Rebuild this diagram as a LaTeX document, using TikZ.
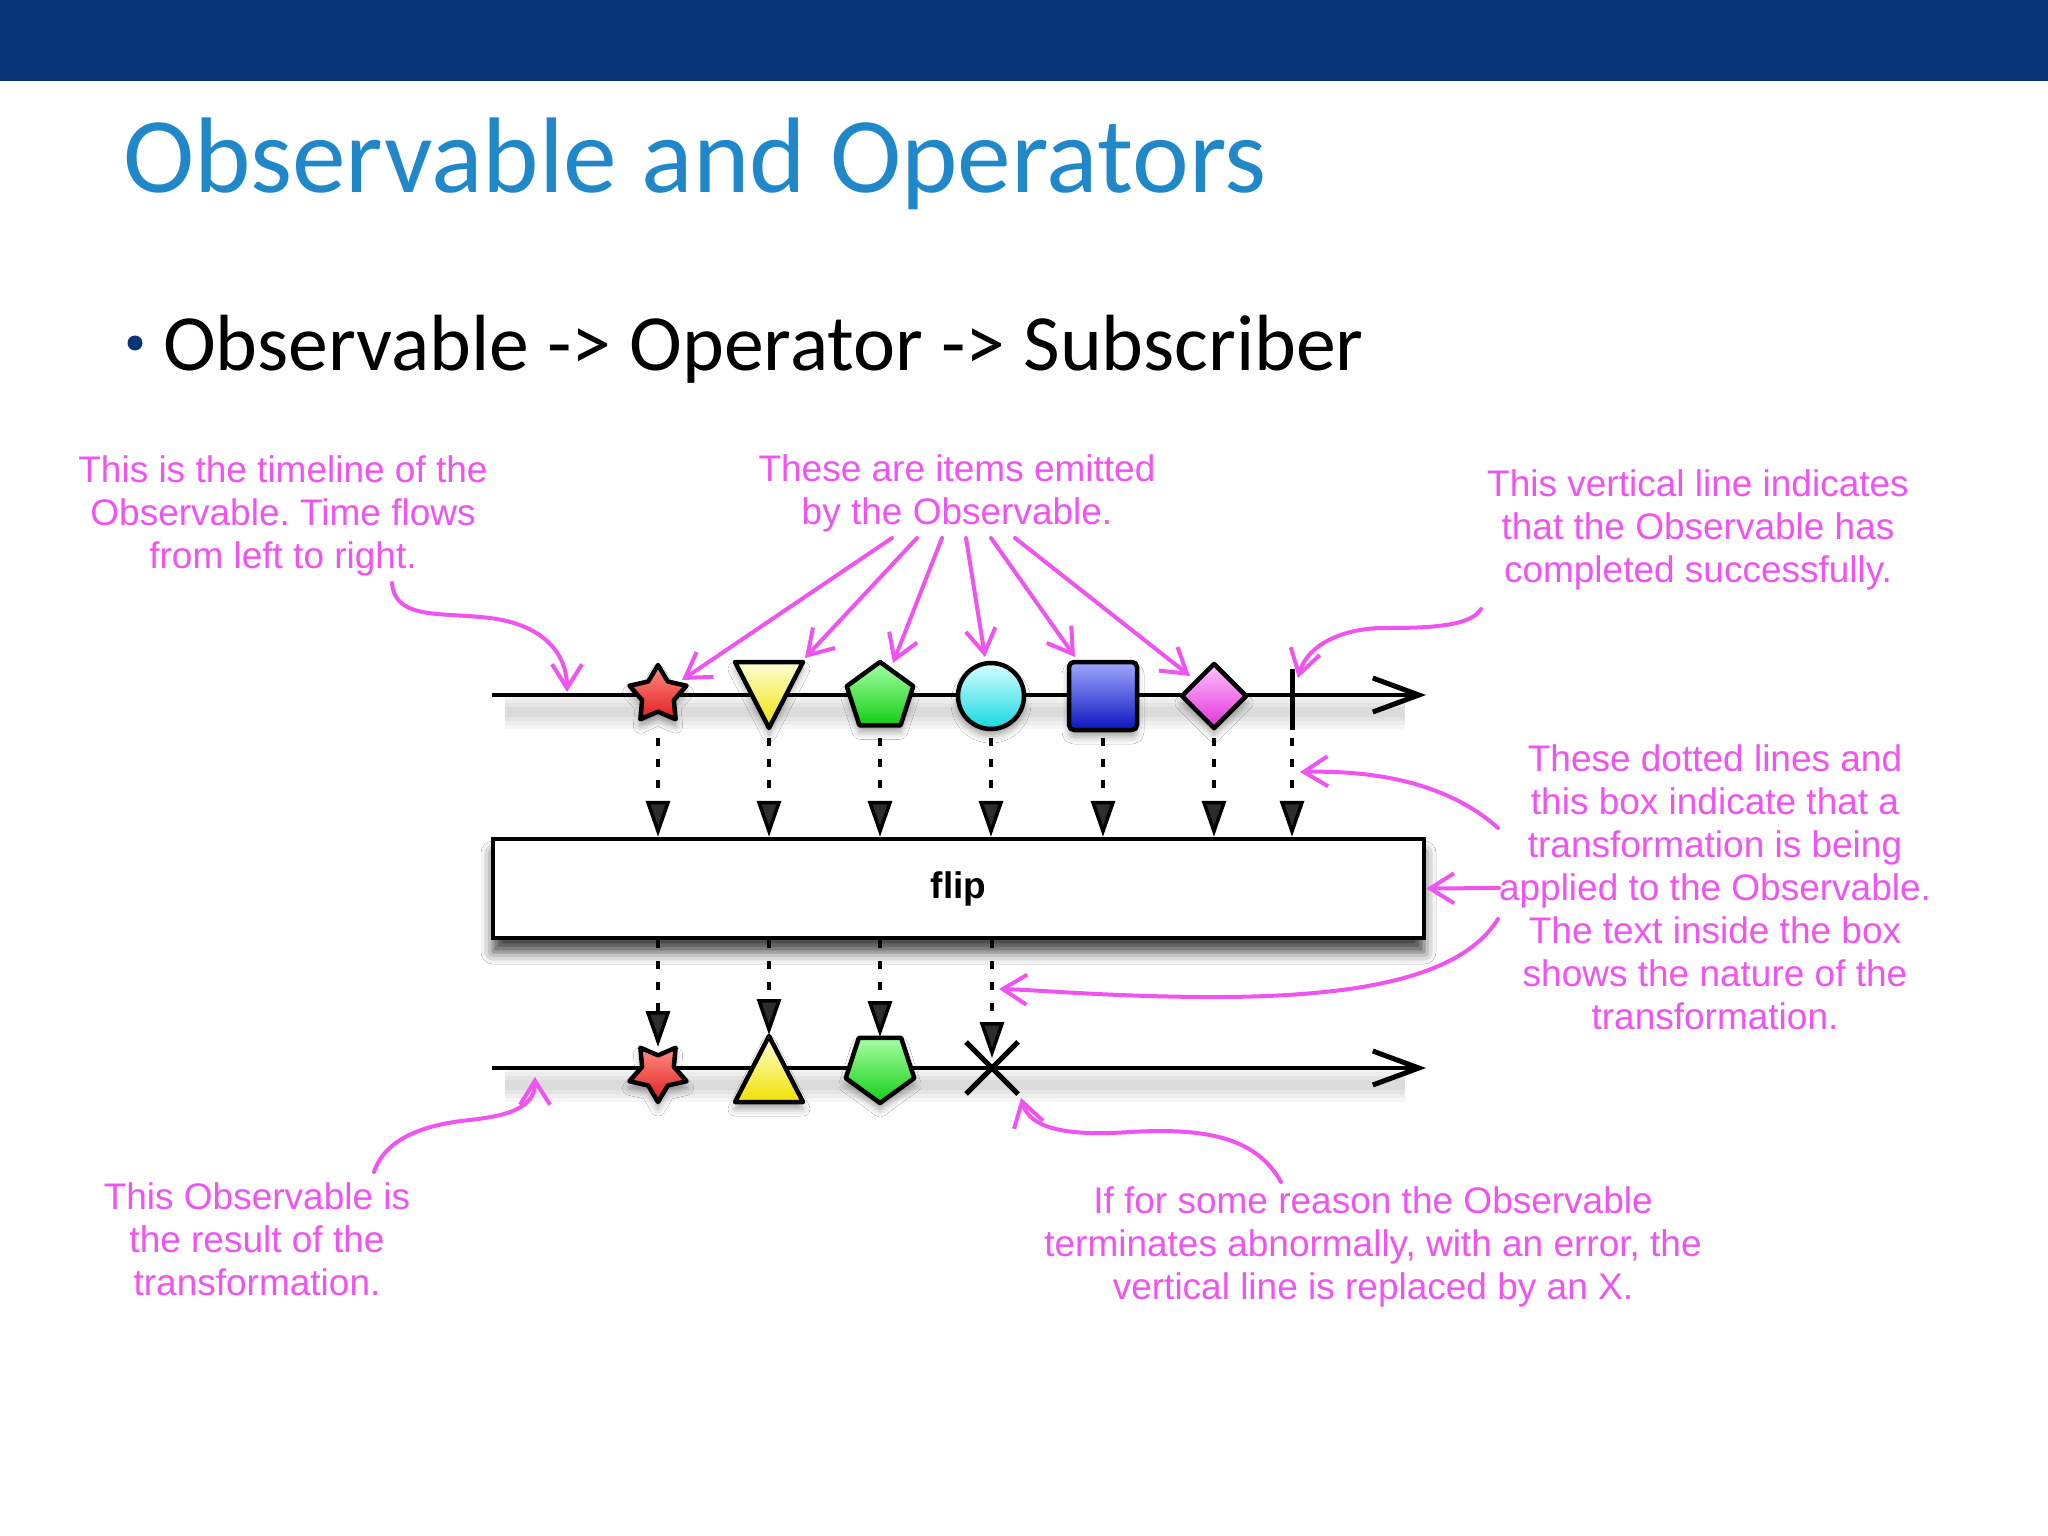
\documentclass[tikz,border=0pt]{standalone}
\usepackage{fontspec}
\setmainfont{Liberation Sans}
\newfontfamily\calibrifont{Carlito}
\usetikzlibrary{arrows.meta,shapes.geometric,shadows.blur}
\definecolor{navyband}{RGB}{10,54,120}
\definecolor{titleblue}{RGB}{32,136,200}
\definecolor{annot}{RGB}{240,84,240}
\definecolor{starT}{RGB}{255,140,130}\definecolor{starB}{RGB}{225,30,30}
\definecolor{yelT}{RGB}{255,255,215}\definecolor{yelB}{RGB}{240,225,0}
\definecolor{grnT}{RGB}{165,255,165}\definecolor{grnB}{RGB}{20,205,20}
\definecolor{cyaT}{RGB}{215,255,255}\definecolor{cyaB}{RGB}{20,215,225}
\definecolor{bluT}{RGB}{160,170,255}\definecolor{bluB}{RGB}{10,20,190}
\definecolor{pnkT}{RGB}{255,195,255}\definecolor{pnkB}{RGB}{225,50,215}
\frenchspacing
\begin{document}
\begin{tikzpicture}[x=1pt,y=-1pt,
  itembox/.style={draw=black, line width=4.5pt, inner sep=0pt, line join=round,
    blur shadow={shadow xshift=0pt,shadow yshift=-7pt,shadow blur radius=7pt,shadow opacity=35}},
  dasharrow/.style={line width=3.5pt, dash pattern=on 8pt off 13pt, -{Triangle[length=36pt,width=24pt]}},
  timeline/.style={line width=4pt, -{Straight Barb[length=46pt,width=34pt,line width=5pt]}},
  tlshadow/.style={black, line width=#1, opacity=0.035},
  annotext/.style={text=annot, font=\fontsize{37}{43}\selectfont, align=center, anchor=north, inner sep=0pt},
  annoarrow/.style={draw=annot, line width=4pt, line cap=round, -{Straight Barb[length=24pt,width=30pt,line width=4pt]}}
]
\fill[white] (0,0) rectangle (2048,1536);
\useasboundingbox (0,0) rectangle (2048,1536);
\fill[navyband] (0,0) rectangle (2048,81);

% title and bullet
\node[anchor=base west, inner sep=0pt, text=titleblue, font=\calibrifont\fontsize{107.5}{120}\selectfont] (title) at (123,193) {Observable and Operators};
\node[circle, fill=navyband, minimum size=15pt, inner sep=0pt] (bullet) at (135,343) {};
\node[anchor=base west, inner sep=0pt, font=\calibrifont\fontsize{79.7}{90}\selectfont] (point) at (163,370) {Observable -> Operator -> Subscriber};

% timelines
\coordinate (tl1s) at (492,695); \coordinate (tl1e) at (1426,695);
\coordinate (tl2s) at (492,1068); \coordinate (tl2e) at (1426,1068);
\foreach \w in {34,26,18,10} {
  \draw[tlshadow=\w pt] (505,712) -- (1405,712);
  \draw[tlshadow=\w pt] (505,1085) -- (1405,1085);
}
\draw[timeline] (tl1s) -- (tl1e);
\draw[timeline] (tl2s) -- (tl2e);

% operator box
\node[draw=black, line width=4.5pt, fill=white, minimum width=931pt, minimum height=99pt, inner sep=0pt,
  blur shadow={shadow xshift=0pt,shadow yshift=-14pt,shadow blur radius=12pt,shadow opacity=75},
  font=\bfseries\fontsize{37}{43}\selectfont] (box) at (958.5,888.5) {flip};

% top items
\node[itembox, star, star points=5, star point ratio=1.8, minimum size=60pt, top color=starT, bottom color=starB] (s1) at (658,695) {};
\coordinate (t1) at (769,695);
\path[itembox, top color=yelT, bottom color=yelB] (735,662) -- (803,662) -- (769,728) -- cycle;
\node[itembox, regular polygon, regular polygon sides=5, minimum size=70pt, top color=grnT, bottom color=grnB] (p1) at (880,697) {};
\node[itembox, circle, minimum size=66pt, top color=cyaT, bottom color=cyaB] (c1) at (991,696) {};
\node[itembox, rectangle, rounded corners=5pt, minimum size=68pt, top color=bluT, bottom color=bluB] (q1) at (1103,696) {};
\node[itembox, diamond, minimum width=66pt, minimum height=66pt, top color=pnkT, bottom color=pnkB] (d1) at (1214,696) {};
\coordinate (bar) at (1292,699);
\draw[line width=5pt] (1292,669) -- (1292,730);

% bottom items
\node[itembox, star, star points=5, star point ratio=1.8, minimum size=60pt, shape border rotate=180, top color=starT, bottom color=starB] (s2) at (658,1072) {};
\coordinate (t2) at (769,1068);
\path[itembox, top color=yelT, bottom color=yelB] (769,1036) -- (803,1102) -- (735,1102) -- cycle;
\node[itembox, regular polygon, regular polygon sides=5, shape border rotate=180, minimum size=72pt, top color=grnT, bottom color=grnB] (p2) at (880,1067) {};
\coordinate (x2) at (992,1068);
\draw[line width=5pt] (966,1042) -- (1018,1094) (1018,1042) -- (966,1094);

% dashed arrows into the box
\foreach \n in {s1,t1,p1,c1,q1,d1,bar} {
  \draw[dasharrow] (\n |- 0,738) -- (\n |- box.north);
}
% dashed arrows out of the box
\draw[dasharrow] (s2 |- box.south) -- (s2 |- 0,1047);
\draw[dasharrow] (t2 |- box.south) -- (t2 |- 0,1035);
\draw[dasharrow] (p2 |- box.south) -- (p2 |- 0,1037);
\draw[dasharrow] (x2 |- box.south) -- (x2 |- 0,1058);

% annotations
\node[annotext] (ann1) at (283,455) {This is the timeline of the\\Observable. Time flows\\from left to right.};
\node[annotext] (ann2) at (957,454) {These are items emitted\\by the Observable.};
\node[annotext] (ann3) at (1698,469) {This vertical line indicates\\that the Observable has\\completed successfully.};
\node[annotext] (ann4) at (1715,744) {These dotted lines and\\this box indicate that a\\transformation is being\\applied to the Observable.\\The text inside the box\\shows the nature of the\\transformation.};
\node[annotext] (ann5) at (257,1182) {This Observable is\\the result of the\\transformation.};
\node[annotext] (ann6) at (1373,1186) {If for some reason the Observable\\terminates abnormally, with an error, the\\vertical line is replaced by an X.};

% annotation arrows
\coordinate (a1s) at (392,583); \coordinate (a1e) at (567,692);
\draw[annoarrow] (a1s) .. controls (395,620) and (440,612) .. (490,618) .. controls (545,625) and (567,655) .. (a1e);

\coordinate (b1s) at (892,538); \coordinate (b1e) at (682,680);
\coordinate (b2s) at (917,538); \coordinate (b2e) at (805,658);
\coordinate (b3s) at (942,538); \coordinate (b3e) at (893,663);
\coordinate (b4s) at (966,538); \coordinate (b4e) at (985,657);
\coordinate (b5s) at (991,538); \coordinate (b5e) at (1075,657);
\coordinate (b6s) at (1015,538); \coordinate (b6e) at (1190,676);
\foreach \k in {1,...,6} { \draw[annoarrow] (b\k s) -- (b\k e); }

\coordinate (c3s) at (1481,609); \coordinate (c3e) at (1298,678);
\draw[annoarrow] (c3s) .. controls (1470,628) and (1420,628) .. (1380,628) .. controls (1330,630) and (1305,652) .. (c3e);

\coordinate (d4s) at (1498,828); \coordinate (d4e) at (1300,772);
\draw[annoarrow] (d4s) .. controls (1450,785) and (1380,770) .. (d4e);

\coordinate (e4s) at (1499,888);
\draw[annoarrow] (e4s) -- (box.east);

\coordinate (f4s) at (1498,919); \coordinate (f4e) at (999,989);
\draw[annoarrow] (f4s) .. controls (1460,980) and (1350,998) .. (1200,997) .. controls (1100,996) and (1040,990) .. (f4e);

\coordinate (g5s) at (374,1172); \coordinate (g5e) at (535,1077);
\draw[annoarrow] (g5s) .. controls (385,1140) and (420,1125) .. (470,1120) .. controls (515,1115) and (535,1105) .. (g5e);

\coordinate (h6s) at (1281,1182); \coordinate (h6e) at (1021,1098);
\draw[annoarrow] (h6s) .. controls (1255,1135) and (1200,1128) .. (1130,1132) .. controls (1070,1136) and (1030,1130) .. (h6e);
\end{tikzpicture}
\end{document}
